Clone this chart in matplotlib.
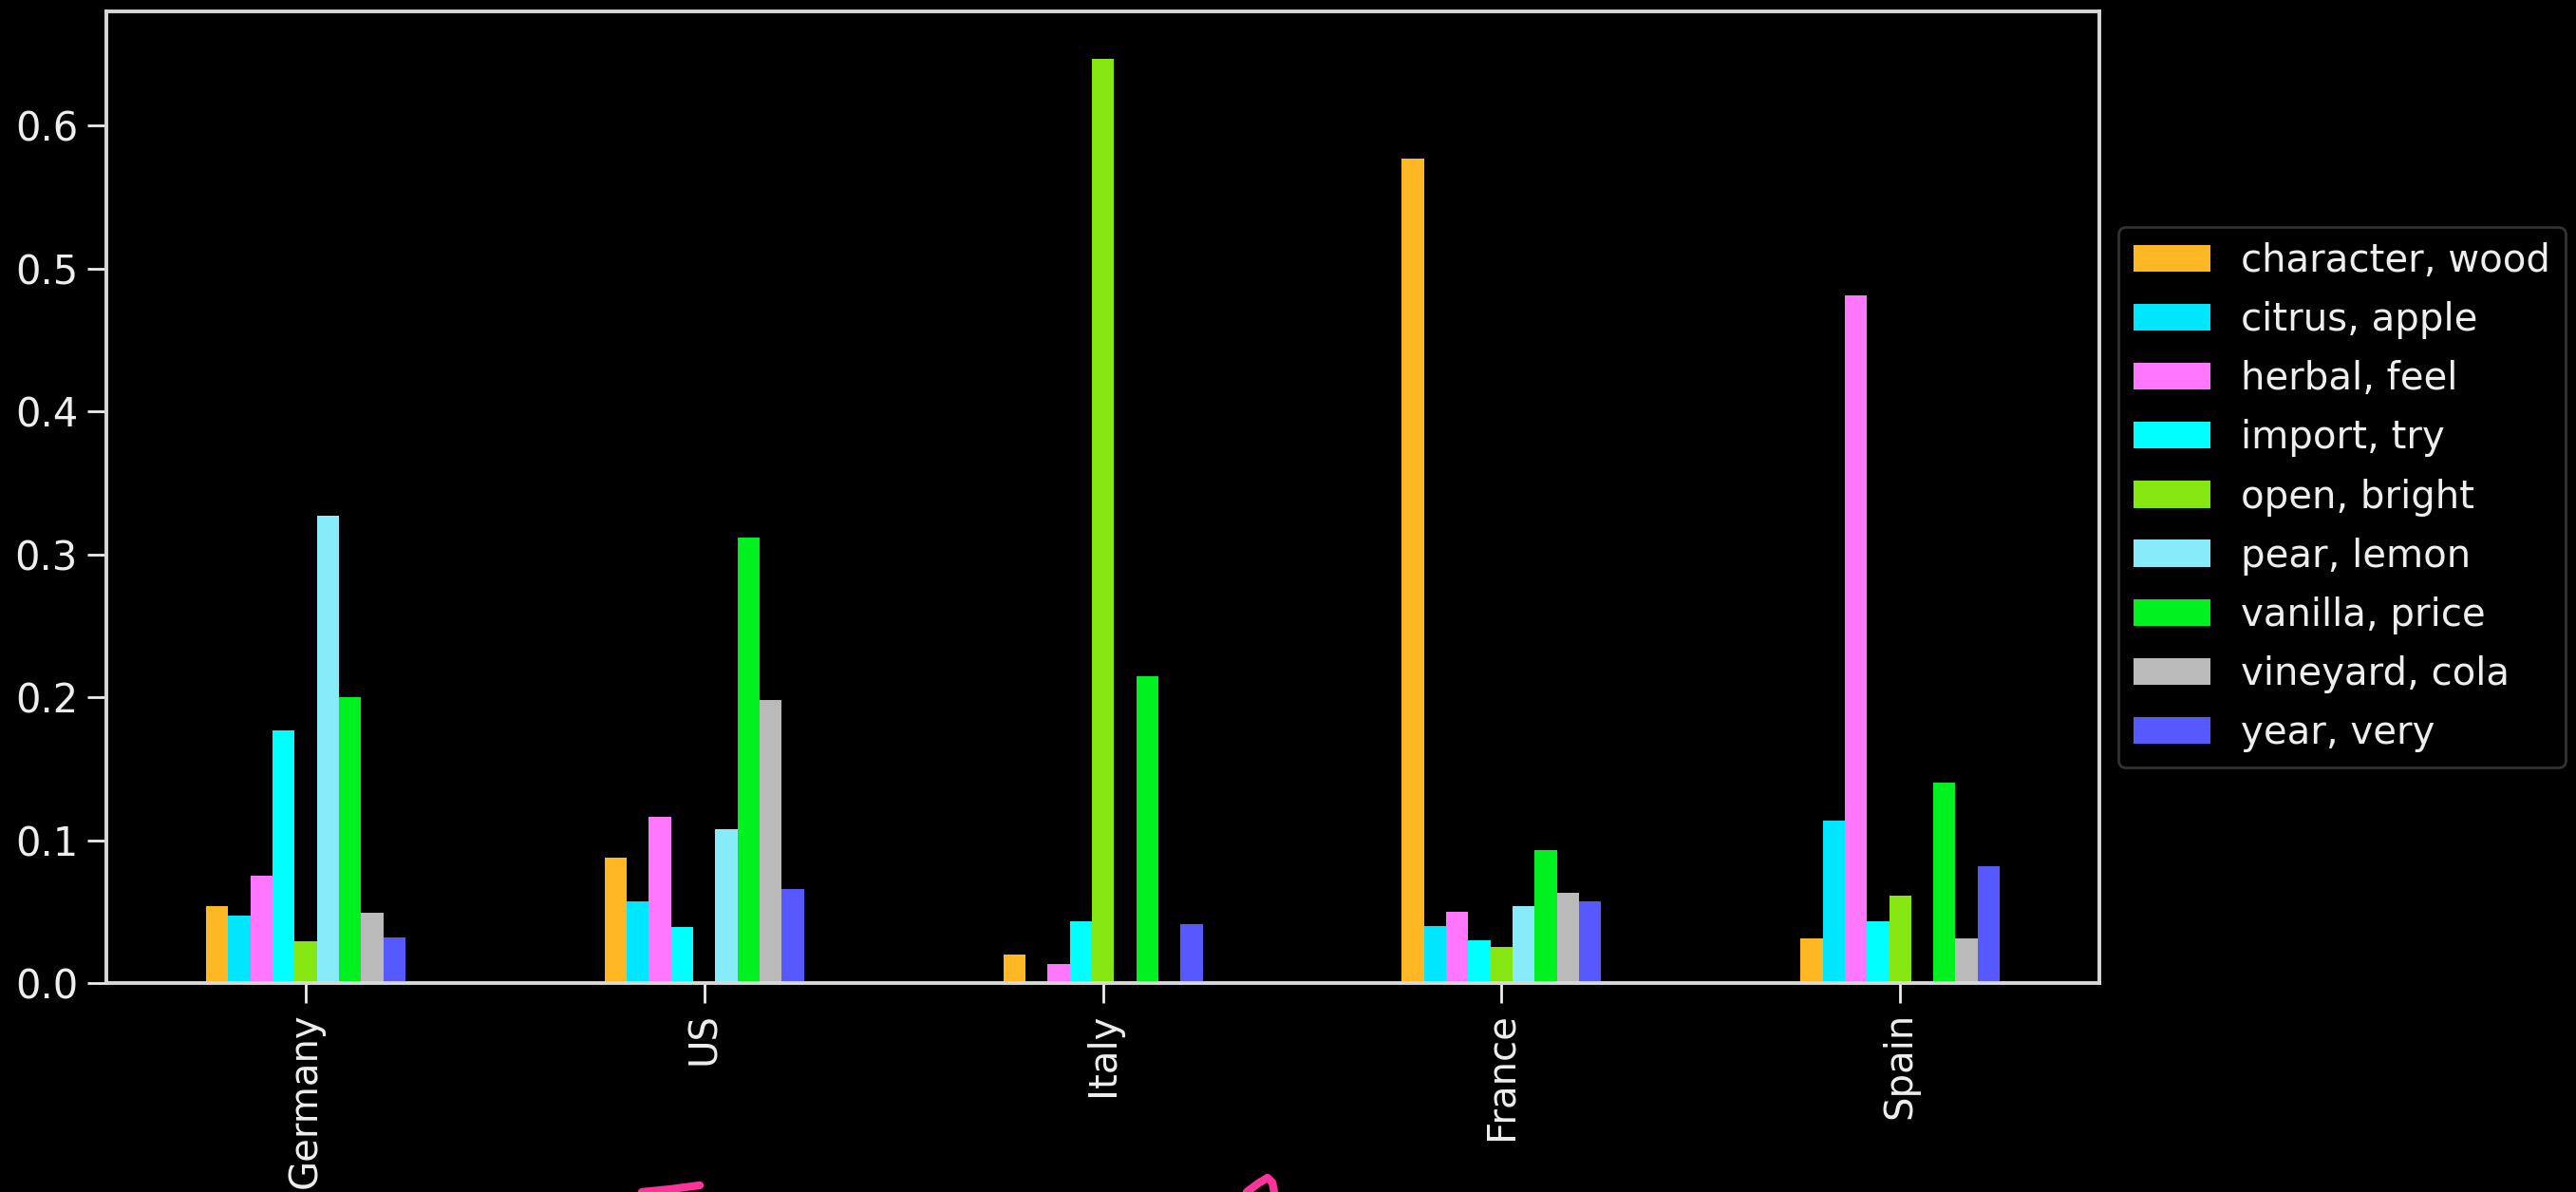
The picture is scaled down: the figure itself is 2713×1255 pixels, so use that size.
import numpy as np
import matplotlib
matplotlib.use("Agg")
import matplotlib.pyplot as plt
from matplotlib.lines import Line2D

countries = ["Germany", "US", "Italy", "France", "Spain"]
topics = ["character, wood", "citrus, apple", "herbal, feel", "import, try",
          "open, bright", "pear, lemon", "vanilla, price", "vineyard, cola",
          "year, very"]

character_wood = [0.054, 0.088, 0.020, 0.577, 0.031]
citrus_apple   = [0.047, 0.057, 0.000, 0.040, 0.114]
herbal_feel    = [0.075, 0.116, 0.013, 0.050, 0.481]
import_try     = [0.177, 0.039, 0.043, 0.030, 0.043]
open_bright    = [0.029, 0.000, 0.647, 0.025, 0.061]
pear_lemon     = [0.327, 0.108, 0.000, 0.054, 0.000]
vanilla_price  = [0.200, 0.312, 0.215, 0.093, 0.140]
vineyard_cola  = [0.049, 0.198, 0.000, 0.063, 0.031]
year_very      = [0.032, 0.066, 0.041, 0.057, 0.082]

series = [character_wood, citrus_apple, herbal_feel, import_try, open_bright,
          pear_lemon, vanilla_price, vineyard_cola, year_very]

colors = ["#FFB823", "#00E6FF", "#FF77FF", "#00FFFF", "#86E612",
          "#88EBFA", "#00F020", "#BABABA", "#5858FF"]

fg = "#EEEEEE"
plt.rcParams.update({
    "font.family": ["DejaVu Sans"],
    "text.color": fg,
    "axes.edgecolor": "#D8D8D8",
    "xtick.color": fg,
    "ytick.color": fg,
    "axes.labelcolor": fg,
})

fig = plt.figure(figsize=(13.565, 6.275), dpi=200, facecolor="black")
ax = fig.add_axes([0.0413, 0.1753, 0.7737, 0.8151])
ax.set_facecolor("black")

n = len(series)
w = 0.5 / n
x = np.arange(len(countries))
for j, (vals, lab, col) in enumerate(zip(series, topics, colors)):
    ax.bar(x - 0.25 + w / 2 + j * w, vals, width=w, color=col, label=lab)

ax.set_xlim(-0.5, len(countries) - 0.5)
ax.set_ylim(0, 0.68)
ax.set_yticks([0.0, 0.1, 0.2, 0.3, 0.4, 0.5, 0.6])
ax.set_xticks(x)
ax.set_xticklabels(countries, rotation=90)
ax.tick_params(axis="y", labelsize=15, length=7.2, width=1.0, pad=3.6)
ax.tick_params(axis="x", labelsize=14.5, length=7.6, width=1.0, pad=3.6)
for sp in ax.spines.values():
    sp.set_linewidth(1.4)

leg = ax.legend(loc="center left", bbox_to_anchor=(1.0, 0.5), fontsize=14.5,
                frameon=True, facecolor="black", edgecolor="#333333",
                framealpha=1.0, borderaxespad=0.5, labelspacing=0.55)
for t in leg.get_texts():
    t.set_color(fg)

# handwritten pink note strokes at the bottom edge
pink = "#FF3399"
fig.add_artist(Line2D([676 / 2713, 706 / 2713, 737 / 2713],
                      [0.0, 3 / 1255, 7 / 1255],
                      transform=fig.transFigure, color=pink, lw=3,
                      solid_capstyle="round"))
fig.add_artist(Line2D([1313 / 2713, 1325 / 2713, 1335 / 2713, 1340 / 2713, 1342 / 2713],
                      [0.0, 9 / 1255, 15 / 1255, 10 / 1255, 0.0],
                      transform=fig.transFigure, color=pink, lw=3,
                      solid_capstyle="round"))

fig.savefig("out.png", dpi=200, facecolor="black")
